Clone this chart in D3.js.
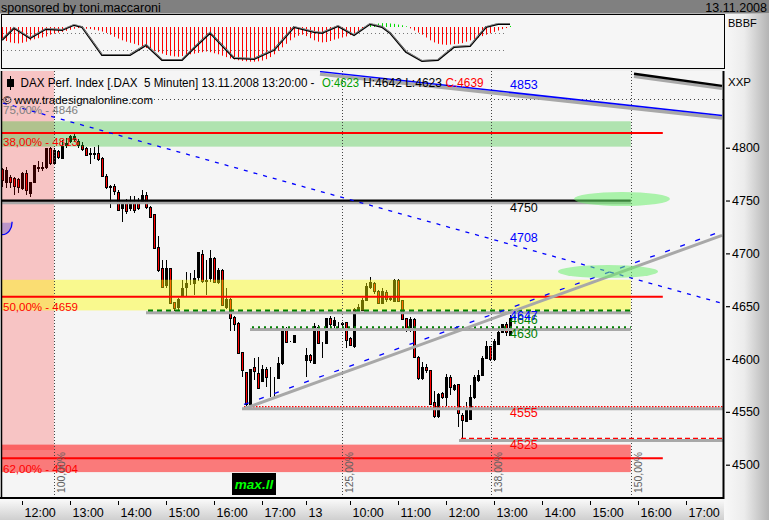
<!DOCTYPE html>
<html><head><meta charset="utf-8">
<script src="https://cdn.jsdelivr.net/npm/d3@7"></script>
<style>
body{margin:0;background:#efefef;overflow:hidden}
svg{display:block}
text{font-family:"Liberation Sans",Arial,sans-serif;white-space:pre}
</style>
</head><body>
<svg id="c" width="769" height="520"></svg>
<script>
// ---------------- DATA ----------------
const firstBar = -5;
const opens  = [4780,4768,4772,4771,4770,4762,4776,4758,4768,4782,4781,4782,4800,4786,4797,4791,4802,4806,4808,4806,4803,4800,4795,4794,4795,4790,4773,4763,4764,4758,4743,4748,4743,4749,4749,4749,4755,4744,4737,4706,4686,4670,4686,4654,4649,4660,4668,4672,4672,4677,4699,4674,4677,4696,4673,4684,4649,4657,4640,4634,4607,4588,4558,4592,4587,4580,4591,4583,4583,4582,4596,4628,4616,4616,4621,4621,4599,4604,4596,4630,4615,4615,4639,4632,4634,4634,4635,4620,4612,4647,4647,4656,4668,4672,4664,4653,4663,4658,4655,4675,4656,4639,4628,4638,4602,4582,4592,4590,4559,4546,4568,4564,4583,4571,4576,4547,4542,4543,4564,4580,4585,4601,4612,4600,4615,4625,4633,4623];
const highs  = [4781,4782,4774,4772,4771,4777,4779,4768,4784,4787,4786,4800,4801,4800,4798,4807,4809,4812,4814,4808,4805,4801,4800,4801,4803,4791,4775,4765,4766,4760,4749,4751,4754,4754,4752,4760,4758,4745,4737,4716,4694,4694,4686,4654,4658,4675,4682,4681,4684,4701,4703,4694,4703,4697,4686,4685,4667,4658,4641,4635,4607,4588,4591,4601,4602,4594,4592,4592,4583,4602,4631,4630,4617,4623,4621,4621,4610,4605,4634,4632,4616,4639,4641,4640,4635,4635,4635,4621,4648,4652,4658,4672,4678,4673,4665,4667,4665,4660,4676,4676,4656,4639,4640,4639,4603,4597,4595,4590,4570,4568,4569,4586,4585,4576,4576,4549,4559,4575,4585,4590,4603,4617,4612,4619,4627,4633,4635,4642];
const lows   = [4763,4762,4762,4755,4757,4760,4755,4753,4768,4777,4778,4780,4784,4784,4789,4790,4800,4804,4805,4800,4797,4792,4785,4789,4787,4772,4761,4743,4755,4740,4730,4737,4740,4738,4741,4747,4742,4734,4704,4682,4668,4667,4652,4645,4646,4660,4660,4670,4661,4674,4672,4661,4673,4672,4671,4650,4647,4627,4627,4605,4583,4556,4556,4580,4573,4580,4574,4564,4564,4582,4594,4616,4616,4616,4621,4621,4583,4596,4596,4614,4601,4615,4627,4629,4629,4629,4610,4612,4610,4645,4646,4655,4666,4662,4652,4652,4654,4655,4655,4654,4638,4626,4626,4601,4580,4580,4587,4558,4544,4544,4562,4556,4566,4570,4536,4525,4540,4542,4562,4578,4585,4600,4598,4598,4615,4625,4622,4623];
const closes = [4770,4779,4767,4763,4762,4776,4760,4768,4784,4781,4782,4800,4786,4798,4791,4802,4804,4811,4811,4802,4799,4793,4794,4795,4789,4773,4763,4764,4759,4741,4748,4740,4749,4741,4743,4755,4744,4735,4705,4684,4668,4686,4653,4648,4657,4667,4672,4672,4677,4701,4673,4675,4696,4673,4684,4651,4657,4639,4633,4606,4590,4558,4591,4588,4573,4591,4583,4583,4583,4596,4629,4616,4616,4623,4621,4621,4604,4599,4631,4615,4615,4639,4633,4637,4634,4633,4618,4613,4647,4649,4656,4669,4673,4664,4653,4664,4656,4657,4675,4655,4638,4628,4638,4602,4582,4592,4589,4558,4546,4567,4564,4583,4574,4575,4549,4542,4554,4564,4583,4585,4601,4612,4600,4617,4626,4633,4625,4639];

// indicator panel (one histogram value per bar, line read at vertices)
const histValues = [-37,-40,-44,-46,-47,-45,-42,-38,-35,-32,-30,-27,-22,-19,-16,-14,-11,-8,-5,-3,-4,-5,-6,-8,-10,-13,-17,-22,-28,-33,-38,-42,-45,-48,-52,-56,-60,-64,-68,-72,-76,-80,-82,-84,-85,-83,-80,-78,-76,-74,-72,-70,-72,-75,-78,-82,-86,-90,-93,-95,-97,-98,-99,-99,-98,-96,-92,-86,-78,-68,-58,-48,-38,-30,-25,-22,-26,-32,-38,-42,-44,-43,-40,-36,-33,-30,-27,-23,-18,-12,-5,3,6,9,10,11,11,10,9,7,5,2,-4,-10,-16,-22,-30,-38,-44,-48,-50,-51,-50,-49,-48,-46,-42,-38,-34,-30,-26,-22,-18,-14,-10,-6,-3,3];
const oscBars   = [-5,-2,2,6,10,13,15,20,27,31,35,40,43,47,53,58,63,68,73,75,79,83,87,90,92,96,100,104,108,112,116,119,122];
const oscValues = [16,79,26,74,68,95,84,-63,-63,-11,-89,-89,-26,53,-79,-84,-37,84,58,53,89,42,100,84,53,-47,-95,-89,-21,-16,84,100,100];
const oscLevels = [51,-37];

// axes
const xTickBars   = [0,12,24,36,48,60,71,82,94,106,118,130,142,154,166];
const xTickLabels = ["12:00","13:00","14:00","15:00","16:00","17:00","13","10:00","11:00","12:00","13:00","14:00","15:00","16:00","17:00"];
const yTicks = [4500,4550,4600,4650,4700,4750,4800];

// fibonacci price levels
const fibLabels     = ["75,00% - 4846","38,00% - 4813","50,00% - 4659","62,00% - 4504"];
const fibLineValues = [4846,4814,4659,4506];
const greenZone  = [4801,4825];
const yellowZone = [4646,4675];
const redZone    = [4493,4519];
// fibonacci time lines
const timeBars   = [8.1,80.1,117.2,152.2];
const timeLabels = ["100,00%","125,00%","138,00%","150,00%"];

// support / resistance lines
const level4750 = 4750, level4646 = 4646, level4630 = 4630, level4555 = 4555, level4525 = 4525;
const levelStartBars = {l4646:31.5, l4630:57.5, l4555:55.5, l4525:109.75};
// trend lines [bar, price] anchor pairs
const upTrendGray  = [[55.5,4553],[175,4717]];
const upTrendBlue  = [[55.5,4557],[175,4721]];
const downTrendBlue= [[-4.75,4842.3],[174.5,4653.3]];
const topBlue      = [[74.5,4872],[175,4830.5]];
const topBlack     = [[153,4870],[175,4858.5]];
// value labels at the last bar (price at label centre)
const lastBar = 122;
const valueLabels = ["4853","4708","4750","4647","4646","4630","4555","4525"];
const valueLabelPrices = [4860,4715.5,4744,4641.5,4637.5,4625,4550,4519.5];
// highlight ellipses [bar, price]
const ellipseCenters = [[150,4751.5],[146.5,4682.8]];

// ---------------- SCALES ----------------
const svg = d3.select("#c");
const x = d3.scaleLinear().domain([0,118]).range([22,494]);
const y = d3.scaleLinear().domain([4500,4800]).range([464.7,147.7]);
const hS = d3.scaleLinear().domain([-100,0]).range([62,27]);
const oS = d3.scaleLinear().domain([-100,100]).range([62,24]);
const P = {l:2, r:723, t:71, b:498};
const X = i => Math.round(x(i));

const defs = svg.append("defs");
const gH = defs.append("linearGradient").attr("id","gh").attr("x1","0").attr("x2","1").attr("y1","0").attr("y2","0");
gH.append("stop").attr("offset","0").attr("stop-color","#f8f8f8");
gH.append("stop").attr("offset","0.45").attr("stop-color","#ececec");
gH.append("stop").attr("offset","1").attr("stop-color","#b4b4b4");
const gV = defs.append("linearGradient").attr("id","gv").attr("x1","0").attr("x2","0").attr("y1","0").attr("y2","1");
gV.append("stop").attr("offset","0").attr("stop-color","#fafafa");
gV.append("stop").attr("offset","1").attr("stop-color","#cfcfcf");
defs.append("clipPath").attr("id","plot").append("rect").attr("x",P.l).attr("y",P.t).attr("width",P.r-P.l).attr("height",P.b-P.t);
defs.append("clipPath").attr("id","ind").append("rect").attr("x",2).attr("y",15).attr("width",722).attr("height",53);

// ---------------- BACKGROUND ----------------
svg.append("rect").attr("width",769).attr("height",520).attr("fill","#efefef");
svg.append("rect").attr("x",724).attr("y",14).attr("width",45).attr("height",506).attr("fill","url(#gh)");
svg.append("rect").attr("x",0).attr("y",499).attr("width",724).attr("height",21).attr("fill","url(#gv)");
svg.append("rect").attr("x",0).attr("y",0).attr("width",769).attr("height",13.5).attr("fill","#808080");
svg.append("text").attr("x",1).attr("y",11.5).attr("font-size",12.5).attr("fill","#000").text("sponsored by toni.maccaroni");
svg.append("text").attr("x",767).attr("y",11.5).attr("font-size",12.5).attr("text-anchor","end").attr("fill","#000").text("13.11.2008");

// ---------------- INDICATOR PANEL ----------------
svg.append("rect").attr("x",1.5).attr("y",14.5).attr("width",723).attr("height",54).attr("fill","#f6f6f6").attr("stroke","#000");
const ind = svg.append("g").attr("clip-path","url(#ind)");
ind.selectAll("line.lvl").data(oscLevels).join("line")
  .attr("x1",3).attr("x2",X(122)-3).attr("y1",d=>Math.round(oS(d))+0.5).attr("y2",d=>Math.round(oS(d))+0.5)
  .attr("stroke","#777").attr("stroke-dasharray","1,3");
ind.selectAll("line.h").data(histValues).join("line")
  .attr("x1",(d,k)=>X(firstBar+k)+0.5).attr("x2",(d,k)=>X(firstBar+k)+0.5)
  .attr("y1",hS(0)).attr("y2",d=>hS(d))
  .attr("stroke",d=>d>0?"#00dd00":"#ff0000").attr("stroke-width",1);
const oscLine = d3.line().x((d,k)=>x(oscBars[k])).y(d=>oS(d));
ind.append("path").attr("d",oscLine(oscValues)).attr("fill","none").attr("stroke","#000").attr("stroke-width",2);
ind.append("path").attr("d",oscLine(oscValues)).attr("fill","none").attr("stroke","#fff").attr("stroke-width",0.5).attr("transform","translate(0,-0.6)");
svg.append("text").attr("x",728).attr("y",27).attr("font-size",11).attr("fill","#000").text("BBBF");

// ---------------- MAIN PLOT ----------------
svg.append("rect").attr("x",P.l).attr("y",P.t).attr("width",P.r-P.l).attr("height",P.b-P.t).attr("fill","#f5f5f5");
const g = svg.append("g").attr("clip-path","url(#plot)");

// candles
const cg = g.append("g").attr("shape-rendering","crispEdges");
const bars = d3.range(opens.length);
cg.selectAll("line.w").data(bars).join("line")
  .attr("x1",k=>X(firstBar+k)+0.5).attr("x2",k=>X(firstBar+k)+0.5)
  .attr("y1",k=>y(highs[k])).attr("y2",k=>y(lows[k])).attr("stroke","#000");
cg.selectAll("rect.b").data(bars).join("rect")
  .attr("x",k=>X(firstBar+k)-0.5).attr("width",2)
  .attr("y",k=>Math.round(y(Math.max(opens[k],closes[k])))+0.5)
  .attr("height",k=>Math.max(0,Math.round(Math.abs(y(opens[k])-y(closes[k])))))
  .attr("fill",k=>closes[k]<opens[k]?"#ff0000":"#000").attr("stroke","#000").attr("stroke-width",1);

// translucent zones
g.append("rect").attr("x",P.l).attr("y",P.t).attr("width",X(timeBars[0])-P.l).attr("height",450-P.t).attr("fill","#ff0000").attr("opacity",0.2);
const zone = (z,col,op)=>g.append("rect").attr("x",P.l).attr("width",x(timeBars[3])-P.l)
  .attr("y",y(z[1])).attr("height",y(z[0])-y(z[1])).attr("fill",col).attr("opacity",op);
zone(greenZone,"#22c022",0.33);
zone(yellowZone,"#ffff00",0.42);
zone(redZone,"#ff0000",0.5);

// fibonacci time lines
g.selectAll("line.t").data(timeBars).join("line")
  .attr("x1",d=>Math.round(x(d))+0.5).attr("x2",d=>Math.round(x(d))+0.5).attr("y1",P.t).attr("y2",P.b)
  .attr("stroke","#444").attr("stroke-dasharray","1,2");
// 75% dotted level
g.append("line").attr("x1",P.l).attr("x2",P.r).attr("y1",Math.round(y(fibLineValues[0]))+0.5).attr("y2",Math.round(y(fibLineValues[0]))+0.5)
  .attr("stroke","#444").attr("stroke-dasharray","1,3");
// red fib lines
g.selectAll("line.f").data(fibLineValues.slice(1)).join("line")
  .attr("x1",P.l).attr("x2",x(160.2)).attr("y1",d=>y(d)).attr("y2",d=>y(d))
  .attr("stroke","#ff0000").attr("stroke-width",2);

// horizontal support/resistance levels with grey shadow
function level(v,x0,x1,col,w,dash){
  g.append("line").attr("x1",x0-2).attr("x2",x1).attr("y1",y(v)+2.2).attr("y2",y(v)+2.2).attr("stroke","#a8a8a8").attr("stroke-width",3);
  g.append("line").attr("x1",x0).attr("x2",x1).attr("y1",y(v)).attr("y2",y(v)).attr("stroke",col).attr("stroke-width",w).attr("stroke-dasharray",dash);
}
level(level4750,P.l,x(timeBars[3]),"#000",2.2,null);
level(level4646,x(levelStartBars.l4646),x(timeBars[3]),"#008000",2,"5,4");
level(level4630,x(levelStartBars.l4630),x(timeBars[3]),"#008000",2,"2,4");
level(level4555,x(levelStartBars.l4555),P.r,"#ff0000",1.3,"1.5,1.5");
level(level4525,x(levelStartBars.l4525),P.r,"#ff0000",1.3,"5,3");

// trend lines
const seg = (a,col,w,dash,dy)=>g.append("line")
  .attr("x1",x(a[0][0])).attr("y1",y(a[0][1])+(dy||0)).attr("x2",x(a[1][0])).attr("y2",y(a[1][1])+(dy||0))
  .attr("stroke",col).attr("stroke-width",w).attr("stroke-dasharray",dash);
seg(upTrendGray,"#a8a8a8",3,null);
seg(upTrendBlue,"#0000ff",1.3,"5,11");
seg(downTrendBlue,"#0000ff",1.3,"4,6");
seg(topBlue,"#a8a8a8",3.5,null,2.5);
seg(topBlue,"#0000ff",1.5,null);
seg(topBlack,"#a8a8a8",3.5,null,2.5);
seg(topBlack,"#000",2.5,null);

// highlight ellipses
g.selectAll("ellipse").data(ellipseCenters).join("ellipse")
  .attr("cx",d=>x(d[0])).attr("cy",d=>y(d[1])).attr("rx",(d,k)=>k?50:48).attr("ry",(d,k)=>k?6.5:7)
  .attr("fill","#6cee6c").attr("opacity",0.55);

// small arc at left edge
const ax = X(firstBar), ay = y(4729);
g.append("path").attr("d",`M${P.l},${ay} L${ax+10},${ay} A10,12 0 0,1 ${P.l},${ay+12} Z`).attr("fill","#7060d0").attr("opacity",0.45);
g.append("path").attr("d",`M${ax+10},${ay-1} A10,12 0 0,1 ${P.l},${ay+12}`).attr("fill","none").attr("stroke","#0000ff").attr("stroke-width",1.3);

// fib labels
const fibColors = ["#808080","#ff0000","#ff0000","#ff0000"];
g.selectAll("text.fl").data(fibLabels).join("text")
  .attr("x",3).attr("y",(d,k)=>y(fibLineValues[k])+[15,13.5,14,14.8][k])
  .attr("font-size",11.5).attr("textLength",75).attr("lengthAdjust","spacingAndGlyphs")
  .attr("fill",(d,k)=>fibColors[k]).text(d=>d);

// time labels (rotated)
g.selectAll("text.tl").data(timeBars).join("text")
  .attr("transform",d=>`translate(${Math.round(x(d))+10.5},493) rotate(-90)`)
  .attr("font-size",11.5).attr("textLength",41).attr("lengthAdjust","spacingAndGlyphs")
  .attr("fill","#606060").text((d,k)=>timeLabels[k]);

// value labels
const vlColors = ["#0000ff","#0000ff","#000","#0000ff","#008000","#008000","#ff0000","#ff0000"];
const vlOrder = [0,1,2,4,3,5,6,7];
g.selectAll("text.vl").data(vlOrder).join("text")
  .attr("x",X(lastBar)).attr("y",k=>y(valueLabelPrices[k])+5)
  .attr("font-size",12.5).attr("fill",k=>vlColors[k]).text(k=>valueLabels[k]);

// max.ll logo
g.append("rect").attr("x",X(52.5)).attr("y",473).attr("width",44).attr("height",22).attr("fill","#000");
g.append("text").attr("x",X(52.5)+22).attr("y",489).attr("text-anchor","middle").attr("font-size",13.5)
  .attr("font-weight","bold").attr("font-style","italic").attr("fill","#00ff00").text("max.ll");

// header
g.append("rect").attr("x",7).attr("y",79).attr("width",7).attr("height",8).attr("fill","#000");
g.append("line").attr("x1",10.5).attr("x2",10.5).attr("y1",76).attr("y2",90).attr("stroke","#000");
const hdr = [["DAX Perf. Index [.DAX  5 Minuten] 13.11.2008 13:20:00 -",20.5,294,"#000"],["O:4623",322,37,"#00a000"],["H:4642 L:4623",363,79,"#000"],["C:4639",445.5,38,"#ff0000"]];
g.selectAll("text.hd").data(hdr).join("text")
  .attr("x",d=>d[1]).attr("y",87).attr("font-size",12).attr("textLength",d=>d[2]).attr("lengthAdjust","spacingAndGlyphs")
  .attr("fill",d=>d[3]).text(d=>d[0]);
g.append("text").attr("x",3).attr("y",103.5).attr("font-size",11.5).attr("textLength",150).attr("lengthAdjust","spacingAndGlyphs")
  .attr("fill","#000").text("© www.tradesignalonline.com");

// borders
svg.append("line").attr("x1",1.5).attr("x2",1.5).attr("y1",P.t).attr("y2",P.b).attr("stroke","#000").attr("stroke-width",1.5);
svg.append("line").attr("x1",P.r+0.5).attr("x2",P.r+0.5).attr("y1",P.t).attr("y2",P.b+1).attr("stroke","#000").attr("stroke-width",2);
svg.append("line").attr("x1",0).attr("x2",P.r+1).attr("y1",P.b).attr("y2",P.b).attr("stroke","#000").attr("stroke-width",2);

// ---------------- AXES ----------------
const ya = svg.append("g").attr("transform","translate(726,0)")
  .call(d3.axisRight(y).tickValues(yTicks).tickSize(4).tickPadding(2).tickFormat(d3.format("d")));
ya.select(".domain").remove();
ya.selectAll("text").attr("font-size",12.5).attr("fill","#000").attr("font-family","Liberation Sans, Arial, sans-serif");
ya.selectAll("line").attr("stroke","#000").attr("stroke-width",1.2);

const xa = svg.append("g").attr("transform","translate(0,501)")
  .call(d3.axisBottom(x).tickValues(xTickBars).tickSize(4).tickFormat((d,k)=>xTickLabels[k]));
xa.select(".domain").remove();
xa.selectAll("line").attr("stroke","#000");
xa.selectAll("text").attr("text-anchor","start").attr("x",2).attr("y",16).attr("dy",0)
  .attr("font-size",12.5).attr("fill","#000").attr("font-family","Liberation Sans, Arial, sans-serif");

svg.append("text").attr("x",728).attr("y",86).attr("font-size",11.5).attr("fill","#000").text("XXP");
</script>
</body></html>
